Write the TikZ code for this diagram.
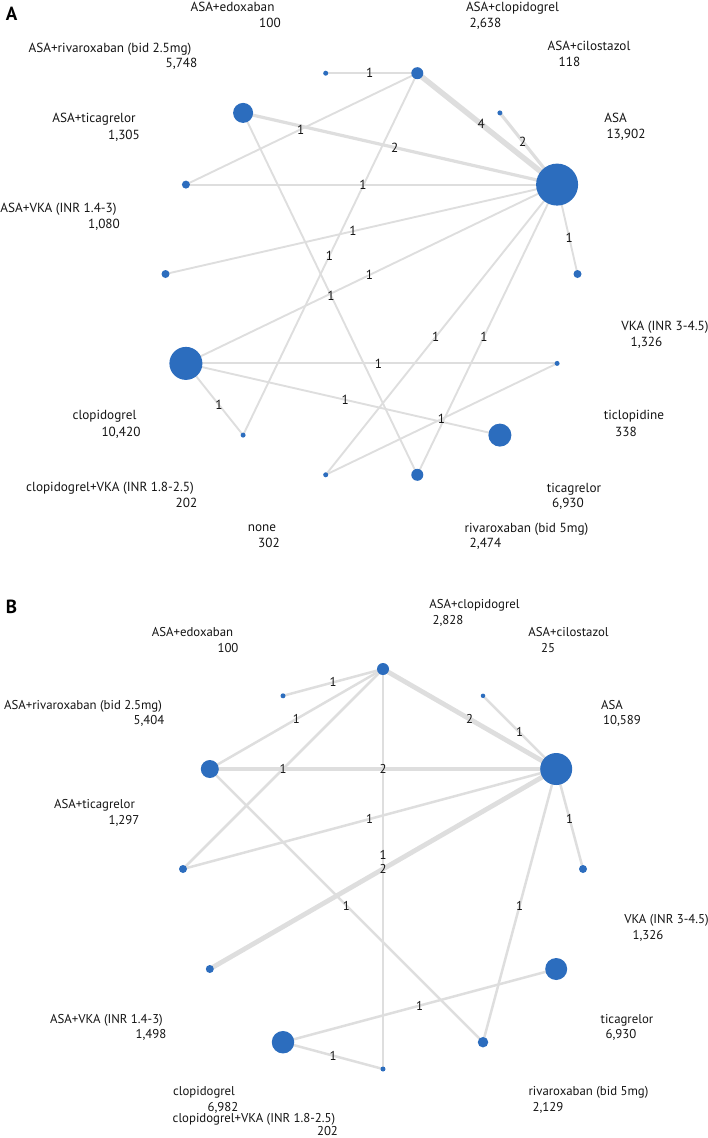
\documentclass[tikz,border=0pt]{standalone}
\usepackage{fontspec}
\setmainfont{PT Sans}
\definecolor{nodeblue}{RGB}{44,109,190}
\definecolor{edgegray}{RGB}{222,222,222}
\definecolor{txt}{RGB}{20,20,20}
\pgfdeclarelayer{bg}
\pgfsetlayers{bg,main}
\begin{document}
\begin{tikzpicture}[x=1pt,y=-1pt,
  nd/.style={circle,fill=nodeblue,draw=none,inner sep=0pt,minimum size=#1},
  lab/.style={anchor=base,inner sep=0pt,text=txt,font=\fontsize{13.2}{15}\selectfont},
  labB/.style={anchor=base,inner sep=0pt,text=txt,font=\fontsize{12.8}{15}\selectfont},
  elab/.style={inner sep=0pt,text=txt,font=\fontsize{13.2}{15}\selectfont},
  elabB/.style={inner sep=0pt,text=txt,font=\fontsize{12.8}{15}\selectfont},
  panel/.style={anchor=base,inner sep=0pt,text=black,font=\fontsize{19}{22}\selectfont\bfseries},
  wa1/.style={draw=edgegray,line width=1.9pt},
  wa2/.style={draw=edgegray,line width=3.2pt},
  wa4/.style={draw=edgegray,line width=5.5pt},
  wb1/.style={draw=edgegray,line width=2.5pt},
  wb2/.style={draw=edgegray,line width=4.8pt}]
\useasboundingbox (0,0) rectangle (708,1138);
% ---------- Panel A nodes ----------
\node[nd=5pt]  (a0)  at (325.7,73.2) {};
\node[nd=12pt] (a1)  at (417.3,73.2) {};
\node[nd=5pt]  (a2)  at (499.9,112.9) {};
\node[nd=42pt] (a3)  at (557.1,184.6) {};
\node[nd=8pt]  (a4)  at (577.5,274) {};
\node[nd=5pt]  (a5)  at (557.1,363.4) {};
\node[nd=23pt] (a6)  at (499.9,435.1) {};
\node[nd=12pt] (a7)  at (417.3,474.8) {};
\node[nd=5pt]  (a8)  at (325.7,474.8) {};
\node[nd=5pt]  (a9)  at (243.1,435.1) {};
\node[nd=33pt] (a10) at (185.9,363.4) {};
\node[nd=8pt]  (a11) at (165.5,274) {};
\node[nd=8pt]  (a12) at (185.9,184.6) {};
\node[nd=20pt] (a13) at (243.1,112.9) {};
% ---------- Panel B nodes ----------
\node[nd=5pt]  (b0)  at (283,695.8) {};
\node[nd=12pt] (b1)  at (383,669) {};
\node[nd=4.5pt](b2)  at (483,695.8) {};
\node[nd=32pt] (b3)  at (556.2,769) {};
\node[nd=8pt]  (b4)  at (583,869) {};
\node[nd=22pt] (b5)  at (556.2,969) {};
\node[nd=10.5pt](b6) at (483,1042.2) {};
\node[nd=5pt]  (b7)  at (383,1069) {};
\node[nd=22.5pt](b8) at (283,1042.2) {};
\node[nd=8pt]  (b9)  at (209.8,969) {};
\node[nd=8pt]  (b10) at (183,869) {};
\node[nd=18pt] (b11) at (209.8,769) {};
\begin{pgfonlayer}{bg}
% ---------- Panel A edges ----------
\draw[wa1] (a0.center) -- (a1.center);
\draw[wa4] (a1.center) -- (a3.center);
\draw[wa2] (a2.center) -- (a3.center);
\draw[wa1] (a12.center) -- (a1.center);
\draw[wa2] (a13.center) -- (a3.center);
\draw[wa1] (a12.center) -- (a3.center);
\draw[wa1] (a11.center) -- (a3.center);
\draw[wa1] (a1.center) -- (a9.center);
\draw[wa1] (a10.center) -- (a3.center);
\draw[wa1] (a13.center) -- (a7.center);
\draw[wa1] (a3.center) -- (a8.center);
\draw[wa1] (a10.center) -- (a5.center);
\draw[wa1] (a10.center) -- (a9.center);
\draw[wa1] (a10.center) -- (a6.center);
\draw[wa1] (a8.center) -- (a5.center);
\draw[wa1] (a3.center) -- (a7.center);
\draw[wa1] (a3.center) -- (a4.center);
% ---------- Panel B edges ----------
\draw[wb1] (b0.center) -- (b1.center);
\draw[wb2] (b1.center) -- (b3.center);
\draw[wb1] (b2.center) -- (b3.center);
\draw[wb2] (b11.center) -- (b3.center);
\draw[wb1] (b1.center) -- (b10.center);
\draw[wb1] (b10.center) -- (b3.center);
\draw[wb1] (b1.center) -- (b7.center);
\draw[wb2] (b9.center) -- (b3.center);
\draw[wb1] (b11.center) -- (b1.center);
\draw[wb1] (b11.center) -- (b6.center);
\draw[wb1] (b8.center) -- (b5.center);
\draw[wb1] (b8.center) -- (b7.center);
\draw[wb1] (b3.center) -- (b4.center);
\draw[wb1] (b3.center) -- (b6.center);
% ---------- edge labels A ----------
\path (a0) -- node[elab]{1} (a1);
\path (a1) -- node[elab]{4} (a3);
\path (a2) -- node[elab]{2} (a3);
\path (a12) -- node[elab]{1} (a1);
\path (a13) -- node[elab]{2} (a3);
\path (a12) -- node[elab]{1} (a3);
\path (a11) -- node[elab]{1} (a3);
\path (a1) -- node[elab]{1} (a9);
\path (a10) -- node[elab]{1} (a3);
\path (a13) -- node[elab]{1} (a7);
\path (a3) -- node[elab]{1} (a8);
\path (a10) -- node[elab]{1} (a5);
\path (a10) -- node[elab]{1} (a9);
\path (a10) -- node[elab]{1} (a6);
\path (a8) -- node[elab]{1} (a5);
\path (a3) -- node[elab]{1} (a7);
\path (a3) -- node[elab]{1} (a4);
% ---------- edge labels B ----------
\path (b0.center) -- node[elabB]{1} (b1.center);
\path (b1.center) -- node[elabB]{2} (b3.center);
\path (b2.center) -- node[elabB]{1} (b3.center);
\path (b11.center) -- node[elabB]{2} (b3.center);
\path (b1.center) -- node[elabB]{1} (b10.center);
\path (b10.center) -- node[elabB]{1} (b3.center);
\path (b1.center) -- node[elabB,yshift=14pt]{1} (b7.center);
\path (b9.center) -- node[elabB]{2} (b3.center);
\path (b11.center) -- node[elabB]{1} (b1.center);
\path (b11.center) -- node[elabB]{1} (b6.center);
\path (b8.center) -- node[elabB]{1} (b5.center);
\path (b8.center) -- node[elabB]{1} (b7.center);
\path (b3.center) -- node[elabB]{1} (b4.center);
\path (b3.center) -- node[elabB]{1} (b6.center);
\end{pgfonlayer}
% ---------- Panel A texts ----------
\node[panel] (pA) at (11.5,20) {A};
\node[lab] (tA0) at (232.5,11) {ASA+edoxaban};
\node[lab] (nA0) at (270,27) {100};
\node[lab] (tA13) at (110,52) {ASA+rivaroxaban (bid 2.5mg)};
\node[lab] (nA13) at (181.5,67) {5,748};
\node[lab] (tA12) at (94,122) {ASA+ticagrelor};
\node[lab] (nA12) at (124,139) {1,305};
\node[lab] (tA11) at (58.5,212) {ASA+VKA (INR 1.4-3)};
\node[lab] (nA11) at (104,228) {1,080};
\node[lab] (tA1) at (512.5,11) {ASA+clopidogrel};
\node[lab] (nA1) at (485.5,27) {2,638};
\node[lab] (tA2) at (589,50) {ASA+cilostazol};
\node[lab] (nA2) at (569.5,66) {118};
\node[lab] (tA3) at (615.5,122) {ASA};
\node[lab] (nA3) at (626,138) {13,902};
\node[lab] (tA4) at (665,330) {VKA (INR 3-4.5)};
\node[lab] (nA4) at (646.5,346) {1,326};
\node[lab] (tA5) at (634,419) {ticlopidine};
\node[lab] (nA5) at (626,436) {338};
\node[lab] (tA6) at (574,492) {ticagrelor};
\node[lab] (nA6) at (568,507) {6,930};
\node[lab] (tA7) at (526.5,532) {rivaroxaban (bid 5mg)};
\node[lab] (nA7) at (485.5,547) {2,474};
\node[lab] (tA10) at (104.5,419) {clopidogrel};
\node[lab] (nA10) at (121,436) {10,420};
\node[lab] (tA9) at (110,491) {clopidogrel+VKA (INR 1.8-2.5)};
\node[lab] (nA9) at (186.5,507) {202};
\node[lab] (tA8) at (262,531) {none};
\node[lab] (nA8) at (269,547) {302};
% ---------- Panel B texts ----------
\node[panel] (pB) at (11.5,613) {B};
\node[labB] (tB0) at (192.5,636) {ASA+edoxaban};
\node[labB] (nB0) at (228,652) {100};
\node[labB] (tB11) at (83,709) {ASA+rivaroxaban (bid 2.5mg)};
\node[labB] (nB11) at (149,724) {5,404};
\node[labB] (tB10) at (94.5,808) {ASA+ticagrelor};
\node[labB] (nB10) at (124,824) {1,297};
\node[labB] (tB1) at (474.5,608) {ASA+clopidogrel};
\node[labB] (nB1) at (448,624) {2,828};
\node[labB] (tB2) at (568.5,636) {ASA+cilostazol};
\node[labB] (nB2) at (548,652) {25};
\node[labB] (tB3) at (612,709) {ASA};
\node[labB] (nB3) at (622,724) {10,589};
\node[labB] (tB4) at (666.5,923) {VKA (INR 3-4.5)};
\node[labB] (nB4) at (648,939) {1,326};
\node[labB] (tB5) at (627,1023) {ticagrelor};
\node[labB] (nB5) at (621,1038) {6,930};
\node[labB] (tB6) at (588.5,1095) {rivaroxaban (bid 5mg)};
\node[labB] (nB6) at (548,1111) {2,129};
\node[labB] (tB9) at (106.5,1023) {ASA+VKA (INR 1.4-3)};
\node[labB] (nB9) at (151,1038) {1,498};
\node[labB] (tB8) at (204,1095) {clopidogrel};
\node[labB] (nB8) at (223,1111) {6,982};
\node[labB] (tB7) at (254,1122) {clopidogrel+VKA (INR 1.8-2.5)};
\node[labB] (nB7) at (327.5,1135) {202};
\end{tikzpicture}
\end{document}
